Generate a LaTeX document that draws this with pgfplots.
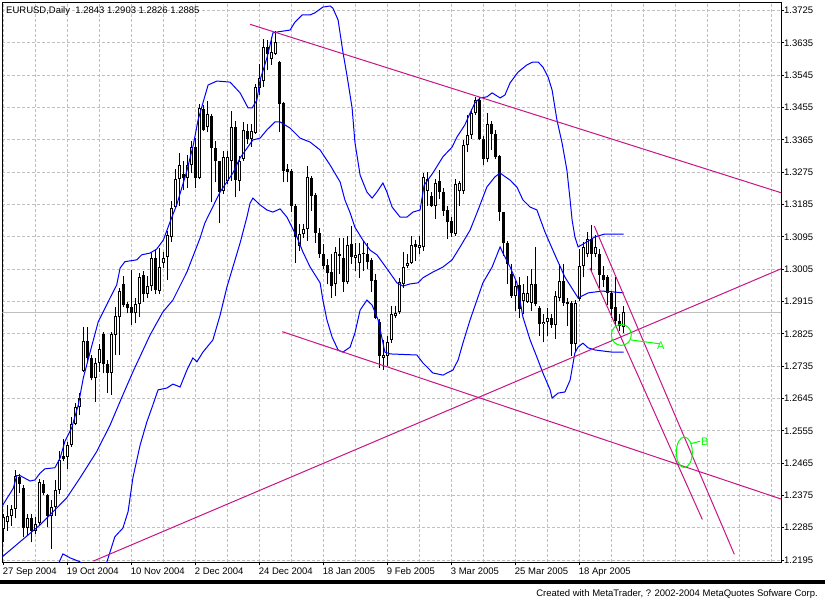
\documentclass[border=0pt]{standalone}
\usepackage{fontspec}
\setmainfont{Liberation Sans}
\usepackage{pgfplots}
\usepackage{pgfplotstable}
\pgfplotsset{compat=1.18}
\definecolor{mtgrid}{RGB}{192,192,192}
\definecolor{mtline}{RGB}{199,21,133}
\definecolor{mtgreen}{RGB}{0,255,0}
\definecolor{mtblue}{RGB}{0,0,255}
\pgfplotstableread{
i o h l c
0 1.2282 1.2324 1.2244 1.2314
1 1.2302 1.2349 1.2277 1.2317
2 1.2317 1.2347 1.2291 1.2338
3 1.2338 1.2445 1.2312 1.2429
4 1.2426 1.2435 1.2382 1.2408
5 1.2396 1.2403 1.2258 1.2284
6 1.2284 1.2324 1.2263 1.2312
7 1.2312 1.2324 1.2244 1.2277
8 1.2277 1.2314 1.2268 1.2296
9 1.2299 1.2421 1.2293 1.2412
10 1.2408 1.2417 1.2375 1.2382
11 1.2375 1.2380 1.2286 1.2317
12 1.2317 1.2361 1.2226 1.2342
13 1.2342 1.2417 1.2317 1.2389
14 1.2389 1.2500 1.2380 1.2473
15 1.2485 1.2533 1.2470 1.2477
16 1.2482 1.2524 1.2449 1.2516
17 1.2516 1.2594 1.2510 1.2575
18 1.2575 1.2631 1.2570 1.2620
19 1.2620 1.2659 1.2598 1.2645
20 1.2722 1.2843 1.2719 1.2806
21 1.2806 1.2843 1.2747 1.2757
22 1.2757 1.2766 1.2696 1.2702
23 1.2702 1.2757 1.2635 1.2745
24 1.2745 1.2798 1.2719 1.2784
25 1.2824 1.2829 1.2715 1.2740
26 1.2740 1.2752 1.2661 1.2717
27 1.2717 1.2831 1.2656 1.2824
28 1.2822 1.2899 1.2766 1.2875
29 1.2871 1.2952 1.2766 1.2945
30 1.2964 1.2987 1.2899 1.2904
31 1.2908 1.2915 1.2882 1.2896
32 1.2899 1.3003 1.2850 1.2882
33 1.2882 1.2924 1.2854 1.2908
34 1.2908 1.2994 1.2873 1.2983
35 1.2989 1.2999 1.2915 1.2936
36 1.2936 1.2985 1.2924 1.2958
37 1.2957 1.3050 1.2945 1.3036
38 1.3036 1.3059 1.2935 1.2946
39 1.2945 1.3064 1.2935 1.3012
40 1.3022 1.3054 1.3008 1.3036
41 1.3039 1.3110 1.2975 1.3101
42 1.3096 1.3194 1.3082 1.3175
43 1.3177 1.3285 1.3175 1.3257
44 1.3255 1.3329 1.3180 1.3295
45 1.3269 1.3306 1.3225 1.3259
46 1.3259 1.3324 1.3231 1.3295
47 1.3295 1.3362 1.3273 1.3346
48 1.3346 1.3371 1.3231 1.3259
49 1.3259 1.3464 1.3255 1.3455
50 1.3452 1.3461 1.3391 1.3393
51 1.3400 1.3473 1.3386 1.3436
52 1.3433 1.3438 1.3191 1.3342
53 1.3342 1.3363 1.3247 1.3305
54 1.3305 1.3307 1.3135 1.3219
55 1.3224 1.3335 1.3214 1.3317
56 1.3250 1.3335 1.3242 1.3318
57 1.3305 1.3445 1.3251 1.3400
58 1.3402 1.3419 1.3205 1.3253
59 1.3250 1.3321 1.3224 1.3307
60 1.3312 1.3414 1.3307 1.3393
61 1.3391 1.3410 1.3354 1.3368
62 1.3368 1.3410 1.3345 1.3391
63 1.3384 1.3521 1.3382 1.3512
64 1.3510 1.3577 1.3489 1.3538
65 1.3529 1.3647 1.3512 1.3624
66 1.3624 1.3642 1.3559 1.3603
67 1.3591 1.3652 1.3575 1.3610
68 1.3605 1.3669 1.3601 1.3638
69 1.3582 1.3585 1.3386 1.3466
70 1.3468 1.3470 1.3247 1.3279
71 1.3284 1.3298 1.3247 1.3277
72 1.3279 1.3284 1.3163 1.3182
73 1.3182 1.3186 1.3023 1.3095
74 1.3070 1.3130 1.3056 1.3104
75 1.3102 1.3130 1.3093 1.3116
76 1.3116 1.3293 1.3084 1.3261
77 1.3259 1.3265 1.3168 1.3210
78 1.3212 1.3216 1.3079 1.3107
79 1.3107 1.3121 1.3037 1.3047
80 1.3047 1.3075 1.3005 1.3014
81 1.3017 1.3033 1.2963 1.2995
82 1.2998 1.3047 1.2926 1.2958
83 1.2963 1.3067 1.2930 1.3054
84 1.3042 1.3093 1.2991 1.3047
85 1.3037 1.3093 1.2941 1.2970
86 1.2968 1.3098 1.2963 1.3073
87 1.3075 1.3126 1.3019 1.3040
88 1.3037 1.3079 1.3000 1.3044
89 1.3023 1.3079 1.2981 1.3048
90 1.3047 1.3084 1.3000 1.3051
91 1.3048 1.3079 1.3005 1.3026
92 1.3030 1.3037 1.2941 1.2972
93 1.2974 1.2993 1.2865 1.2870
94 1.2859 1.2865 1.2730 1.2763
95 1.2758 1.2809 1.2725 1.2767
96 1.2763 1.2818 1.2735 1.2803
97 1.2809 1.2902 1.2800 1.2879
98 1.2874 1.2902 1.2870 1.2884
99 1.2887 1.2981 1.2879 1.2968
100 1.2963 1.3053 1.2954 1.3011
101 1.3014 1.3047 1.3009 1.3023
102 1.3023 1.3098 1.3019 1.3073
103 1.3075 1.3086 1.3028 1.3067
104 1.3063 1.3098 1.3047 1.3073
105 1.3066 1.3273 1.3057 1.3261
106 1.3224 1.3275 1.3182 1.3257
107 1.3210 1.3219 1.3178 1.3182
108 1.3182 1.3257 1.3145 1.3245
109 1.3252 1.3280 1.3201 1.3219
110 1.3219 1.3231 1.3154 1.3168
111 1.3170 1.3182 1.3089 1.3136
112 1.3138 1.3150 1.3094 1.3105
113 1.3103 1.3257 1.3098 1.3243
114 1.3222 1.3252 1.3182 1.3245
115 1.3222 1.3366 1.3215 1.3350
116 1.3350 1.3434 1.3331 1.3379
117 1.3379 1.3452 1.3368 1.3440
118 1.3440 1.3485 1.3434 1.3475
119 1.3477 1.3485 1.3364 1.3368
120 1.3368 1.3375 1.3294 1.3313
121 1.3313 1.3440 1.3303 1.3408
122 1.3410 1.3418 1.3336 1.3382
123 1.3381 1.3392 1.3313 1.3317
124 1.3319 1.3322 1.3140 1.3164
125 1.3164 1.3164 1.3043 1.3077
126 1.3077 1.3084 1.2963 1.3019
127 1.2991 1.3019 1.2926 1.2931
128 1.2931 1.2973 1.2889 1.2959
129 1.2961 1.2982 1.2870 1.2894
130 1.2917 1.2963 1.2880 1.2940
131 1.2915 1.2987 1.2912 1.2940
132 1.2912 1.3005 1.2889 1.2963
133 1.2965 1.3066 1.2903 1.2909
134 1.2898 1.2903 1.2819 1.2852
135 1.2852 1.2880 1.2801 1.2858
136 1.2859 1.2898 1.2819 1.2868
137 1.2868 1.2880 1.2842 1.2850
138 1.2850 1.2945 1.2810 1.2931
139 1.2926 1.3019 1.2917 1.2971
140 1.2973 1.3019 1.2903 1.2912
141 1.2915 1.2926 1.2847 1.2907
142 1.2912 1.2917 1.2763 1.2796
143 1.2796 1.2919 1.2777 1.2912
144 1.2922 1.3061 1.2917 1.3015
145 1.3015 1.3080 1.2982 1.3066
146 1.3047 1.3108 1.3038 1.3089
147 1.3089 1.3127 1.2996 1.3047
148 1.3047 1.3099 1.3038 1.3066
149 1.3047 1.3061 1.2952 1.2989
150 1.2989 1.3015 1.2955 1.2975
151 1.2982 1.2990 1.2905 1.2940
152 1.2940 1.2945 1.2870 1.2895
153 1.2900 1.2982 1.2845 1.2862
154 1.2862 1.2880 1.2833 1.2848
155 1.2843 1.2903 1.2826 1.2885
}\candles
\begin{document}
\begin{tikzpicture}[x=1pt,y=1pt]
\fill[white] (0,0) rectangle (825,600);
\path[use as bounding box] (0,0) rectangle (825,600);
\begin{axis}[
  at={(2.3pt,37.7pt)}, anchor=south west,
  scale only axis, width=778.7pt, height=560pt,
  xmin=-0.35, xmax=194.325, ymin=1.21887, ymax=1.37483,
  axis line style={line width=1pt, black},
  xtick={0,16,...,144},
  xticklabels={27 Sep 2004, 19 Oct 2004, 10 Nov 2004, 2 Dec 2004, 24 Dec 2004, 18 Jan 2005, 9 Feb 2005, 3 Mar 2005, 25 Mar 2005, 18 Apr 2005},
  minor xtick={8,24,40,56,72,88,104,120,136,152,160,168,176,184,192},
  ytick={1.2195,1.2285,1.2375,1.2465,1.2555,1.2645,1.2735,1.2825,1.2915,1.3005,1.3095,1.3185,1.3275,1.3365,1.3455,1.3545,1.3635,1.3725},
  xtick pos=left, ytick pos=right, yticklabel pos=right,
  tick align=outside, major tick length=3pt, minor tick length=0pt,
  every tick/.style={line width=1pt, black},
  grid=both,
  major grid style={mtgrid, line width=1pt, dash pattern=on 3pt off 2pt},
  minor grid style={mtgrid, line width=1pt, dash pattern=on 3pt off 2pt},
  ticklabel style={font=\fontsize{9.5}{10}\selectfont},
  /pgf/number format/assume math mode=true,
  yticklabel style={/pgf/number format/.cd, fixed, fixed zerofill, precision=4, /tikz/.cd, anchor=west, inner sep=0pt},
  xticklabel style={anchor=north west, inner sep=0pt, xshift=-1pt, yshift=-2pt},
]
% bid line
\addplot[mtgrid, line width=1pt] coordinates {(-0.35,1.2885) (194.325,1.2885)};
% wicks
\addplot[draw=none, mark=none,
  error bars/.cd, y dir=plus, y explicit, error mark=none,
  error bar style={draw=black, line width=1pt}]
  table[x=i, y=l, y error expr={\thisrow{h}-\thisrow{l}}] {\candles};
% bodies
\addplot[draw=none, mark=none,
  error bars/.cd, y dir=plus, y explicit, error mark=none,
  error bar style={draw=black, line width=3pt}]
  table[x=i, y expr={min(\thisrow{o},\thisrow{c})}, y error expr={abs(\thisrow{c}-\thisrow{o})}] {\candles};
% white inner of bullish bodies
\addplot[draw=none, mark=none,
  restrict expr to domain={\thisrow{c}-\thisrow{o}}{0.0006:1},
  error bars/.cd, y dir=plus, y explicit, error mark=none,
  error bar style={draw=white, line width=1pt, shorten <=1pt, shorten >=1pt}]
  table[x=i, y=o, y error expr={\thisrow{c}-\thisrow{o}}] {\candles};
% Bollinger upper
\addplot[mtblue, line width=1pt] coordinates {
(-0.35,1.2346) (2.4,1.2395) (3.25,1.2430) (4.1,1.2430) (6.6,1.2415) (7.8,1.2418) (9.1,1.2437) (10.3,1.2449) (12.8,1.2452) (14.1,1.2479) (15.3,1.2525) (17,1.2563) (18.65,1.2627) (19.9,1.2702) (21.6,1.2774) (23.65,1.2859) (26.6,1.2925) (28.25,1.2961) (29.1,1.3008) (30.3,1.3026) (33.25,1.3031) (34.5,1.3045) (36.6,1.3050) (38.25,1.3061) (39.9,1.3086) (41.6,1.3137) (43.25,1.3184) (45.75,1.3277) (47.4,1.3351) (48.6,1.3421) (51.1,1.3518) (53.3,1.3529) (56.6,1.3526) (59.1,1.3496) (61.1,1.3454) (62.1,1.3454) (63.3,1.3476) (64.1,1.3532) (65.8,1.3593) (67.3,1.3663) (68.6,1.3666) (71.6,1.3671) (72.8,1.3693) (74.6,1.3713) (76.6,1.3713) (77.8,1.3719) (79.8,1.3735) (81.6,1.3738) (82.3,1.3732) (83.6,1.3699) (84.8,1.3610) (85.8,1.3546) (87.1,1.3454) (87.8,1.3359) (89.1,1.3267) (90.8,1.3220) (92.1,1.3203) (93.3,1.3220) (94.8,1.3245) (95.8,1.3220) (97.1,1.3178) (99.1,1.3150) (100.8,1.3150) (102.3,1.3164) (104.1,1.3170) (105.1,1.3239) (107.3,1.3273) (109.8,1.3318) (112.1,1.3345) (113.3,1.3373) (115.3,1.3407) (116.6,1.3440) (117.8,1.3468) (119.1,1.3482) (120.8,1.3485) (122.1,1.3496) (124.1,1.3482) (125.3,1.3490) (126.6,1.3524) (128.6,1.3554) (130.8,1.3574) (132.3,1.3582) (133.6,1.3582) (134.8,1.3568) (136.1,1.3540) (137.1,1.3504) (138.3,1.3421) (139.6,1.3356) (140.8,1.3281) (141.6,1.3198) (142.1,1.3142) (142.8,1.3095) (143.6,1.3067) (145.8,1.3081) (147.8,1.3095) (150.3,1.3103) (155,1.3103)};
% Bollinger middle
\addplot[mtblue, line width=1pt] coordinates {
(-0.35,1.2204) (4.1,1.2246) (9.1,1.2293) (15.75,1.2368) (19.1,1.2424) (23.25,1.2497) (26.6,1.2571) (29.8,1.2655) (32.3,1.2719) (36.6,1.2822) (39.8,1.2886) (42.3,1.2919) (45.8,1.2997) (49.1,1.3092) (50.3,1.3134) (54.1,1.3220) (57.3,1.3273) (59.1,1.3315) (62.3,1.3365) (64.1,1.3370) (65.8,1.3393) (67.8,1.3415) (69.1,1.3415) (71.6,1.3398) (74.1,1.3370) (76.6,1.3359) (79.1,1.3337) (81.6,1.3295) (84.1,1.3248) (85.3,1.3198) (86.6,1.3162) (87.8,1.3122) (89.8,1.3086) (91.6,1.3058) (93.3,1.3045) (94.8,1.3022) (96.6,1.2994) (98.3,1.2967) (99.8,1.2958) (101.6,1.2964) (103.6,1.2967) (104.8,1.2981) (107.3,1.2997) (109.8,1.3011) (112.1,1.3031) (114.1,1.3067) (116.6,1.3114) (118.6,1.3170) (120.8,1.3234) (122.8,1.3262) (124.1,1.3273) (124.8,1.3267) (126.6,1.3253) (128.3,1.3234) (129.8,1.3198) (131.6,1.3178) (133.3,1.3170) (135.3,1.3109) (137.8,1.3045) (140.3,1.2983) (142.8,1.2939) (143.6,1.2925) (146.1,1.2939) (149.6,1.2944) (152.1,1.2942) (155,1.2939)};
% Bollinger lower
\addplot[mtblue, line width=1pt] coordinates {
(13.5,1.2180) (14.8,1.2212) (16.6,1.2201) (19.1,1.2190) (20,1.2170) (25,1.2170) (25.8,1.2190) (27.8,1.2260) (29.8,1.2284) (31.1,1.2330) (32.3,1.2424) (34.1,1.2515) (35.8,1.2580) (37.3,1.2627) (38.6,1.2669) (40.8,1.2674) (42.3,1.2685) (44.1,1.2677) (45.8,1.2724) (47.3,1.2758) (48.3,1.2747) (49.8,1.2774) (52.3,1.2808) (54.1,1.2877) (55.8,1.2955) (57.3,1.3011) (59.1,1.3078) (60.8,1.3150) (61.6,1.3189) (62.3,1.3203) (64.1,1.3184) (65.8,1.3170) (67.3,1.3164) (69.1,1.3173) (70.8,1.3150) (73.3,1.3095) (74.8,1.3053) (76.6,1.3011) (79.1,1.2967) (79.8,1.2919) (80.8,1.2864) (82.1,1.2816) (83.6,1.2780) (84.8,1.2774) (86.6,1.2788) (87.8,1.2827) (89.1,1.2891) (90.8,1.2919) (92.1,1.2905) (93.6,1.2864) (95.3,1.2774) (96.6,1.2769) (103.3,1.2766) (104.8,1.2744) (107.3,1.2716) (109.8,1.2710) (112.3,1.2724) (113.6,1.2752) (114.8,1.2799) (116.6,1.2864) (119.8,1.2967) (122.1,1.3011) (124.1,1.3067) (124.8,1.3050) (126.6,1.3011) (128.3,1.2967) (129.8,1.2872) (131.6,1.2808) (133.3,1.2760) (134.8,1.2716) (136.6,1.2669) (137.1,1.2646) (138.6,1.2660) (140.3,1.2663) (141.6,1.2696) (142.8,1.2772) (143.6,1.2788) (144.8,1.2799) (146.1,1.2786) (147.8,1.2780) (152.1,1.2774) (155,1.2774)};
% trend lines
\addplot[mtline, line width=1pt] coordinates {(61.6,1.3687) (194.325,1.3218)};
\addplot[mtline, line width=1pt] coordinates {(69.65,1.2831) (194.325,1.2365)};
\addplot[mtline, line width=1pt] coordinates {(22.4,1.2192) (194.325,1.3006)};
\addplot[mtline, line width=1pt] coordinates {(147.65,1.3125) (182.65,1.2211)};
\addplot[mtline, line width=1pt] coordinates {(146.575,1.3008) (174.65,1.2308)};
% annotations
\draw[mtgreen, line width=1pt] (axis cs:154.4,1.2822) ellipse [x radius=10pt, y radius=10.5pt];
\addplot[mtgreen, line width=1pt] coordinates {(156.8,1.2808) (164.1,1.2797)};
\node[text=mtgreen, font=\fontsize{11}{12}\selectfont, inner sep=0pt] at (axis cs:164.3,1.2791) {A};
\draw[mtgreen, line width=1pt] (axis cs:170.15,1.2495) ellipse [x radius=8pt, y radius=15.3pt];
\addplot[mtgreen, line width=1pt] coordinates {(171.8,1.2519) (174.1,1.2526)};
\node[text=mtgreen, font=\fontsize{11}{12}\selectfont, inner sep=0pt] at (axis cs:175.3,1.2524) {B};
% current price label
\node[fill=black, text=white, inner sep=0pt, minimum width=35pt, minimum height=10pt, anchor=west, xshift=2.3pt, font=\fontsize{9.5}{10}\selectfont] at (axis cs:194.325,1.2885) {1.2885};
\end{axis}
\node[anchor=base west, inner sep=0pt, font=\fontsize{9.5}{10}\selectfont] at (6,586.7) {EURUSD,Daily\ \ 1.2843 1.2903 1.2826 1.2885};
\fill[black] (0,16) rectangle (825,20);
\node[anchor=base east, inner sep=0pt, font=\fontsize{9.5}{10}\selectfont] at (818,4) {Created with MetaTrader, ? 2002-2004 MetaQuotes Sofware Corp.};
\end{tikzpicture}
\end{document}
